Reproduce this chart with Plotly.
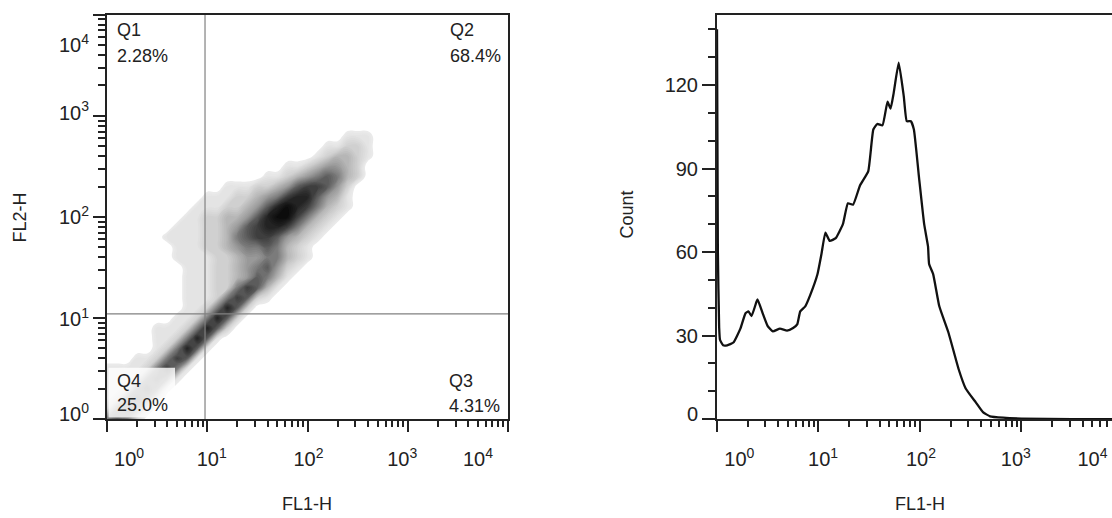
import math
import plotly.graph_objects as go

# ------------------------------------------------------------------
# DATA
# ------------------------------------------------------------------
# Left panel: FL1-H vs FL2-H density on a grid in
# log10 units (0.1 decade steps).  Digits are relative density levels
# (0 = empty, 9 = densest).  Rows run from top (log FL2 = 3.2) to bottom (0.0).
DENSITY_LOG_FL1 = [0.0, 0.1, 0.2, 0.3, 0.4, 0.5, 0.6, 0.7, 0.8, 0.9,
                   1.0, 1.1, 1.2, 1.3, 1.4, 1.5, 1.6, 1.7, 1.8, 1.9,
                   2.0, 2.1, 2.2, 2.3, 2.4, 2.5, 2.6, 2.7, 2.8, 2.9, 3.0]
DENSITY_LOG_FL2 = [3.2, 3.1, 3.0, 2.9, 2.8, 2.7, 2.6, 2.5, 2.4, 2.3,
                   2.2, 2.1, 2.0, 1.9, 1.8, 1.7, 1.6, 1.5, 1.4, 1.3,
                   1.2, 1.1, 1.0, 0.9, 0.8, 0.7, 0.6, 0.5, 0.4, 0.3,
                   0.2, 0.1, 0.0]
DENSITY_ROWS = [
    "0000000000000000000000000000000",
    "0000000000000000000000000000000",
    "0000000000000000000000000000000",
    "0000000000000000000000000000000",
    "0000000000000000000000001110000",
    "0000000000000000000000112210000",
    "0000000000000000000001233210000",
    "0000000000000000001123443200000",
    "0000000000000000112345653200000",
    "0000000000001112234677642000000",
    "0000000000111223457886431000000",
    "0000000001112234689875321000000",
    "0000000011223346899753210000000",
    "0000000111223467887532100000000",
    "0000001111223567764321000000000",
    "0000000111223455653210000000000",
    "0000000111122344553210000000000",
    "0000000011122345642100000000000",
    "0000000011122346531000000000000",
    "0000000011122576310000000000000",
    "0000000011125762100000000000000",
    "0000000011258620000000000000000",
    "0000000112586200000000000000000",
    "0000011125862000000000000000000",
    "0000011258610000000000000000000",
    "0000012586100000000000000000000",
    "0001125761000000000000000000000",
    "1111257510000000000000000000000",
    "1112565100000000000000000000000",
    "1125651000000000000000000000000",
    "1256520000000000000000000000000",
    "2565200000000000000000000000000",
    "5652000000000000000000000000000",
]

GATE_FL1 = 9.5      # vertical quadrant gate
GATE_FL2 = 11.0     # horizontal quadrant gate
QUADRANT_NAMES = ["Q1", "Q2", "Q3", "Q4"]
QUADRANT_PCTS = ["2.28%", "68.4%", "4.31%", "25.0%"]

# Right panel: FL1-H histogram
HIST_FL1 = [1.00, 1.02, 1.05, 1.07, 1.15, 1.26, 1.45, 1.70, 1.91, 2.04,
            2.19, 2.45, 2.51, 2.82, 3.16, 3.55, 4.17, 4.90, 5.62, 6.17,
            6.61, 7.41, 8.32, 9.77, 10.7, 11.7, 12.9, 14.8, 17.4, 19.5,
            21.9, 25.7, 30.9, 34.7, 38.0, 42.7, 47.9, 51.3, 55.0, 61.7,
            69.2, 74.1, 81.3, 87.1, 97.7, 110, 120, 123, 135, 155,
            191, 240, 282, 355, 417, 490, 661, 1000, 3162, 10000]
HIST_COUNT = [140, 60, 33, 28.5, 26.5, 26.5, 27.5, 32.5, 38, 38.7,
              37, 42.2, 43, 38, 33.4, 31.5, 32.5, 31.8, 32.7, 34,
              38.7, 40.5, 44.7, 52, 59.3, 67, 64, 65, 70, 77.5,
              77, 84, 89, 104, 106, 105.5, 114, 111.5, 117, 128,
              116, 107, 107, 104, 87, 70, 62, 55.7, 52, 40.5,
              31, 18, 11, 6, 2.5, 1, 0.5, 0.2, 0, 0]

DECADES = [1, 10, 100, 1000, 10000]
DECADE_TEXT = ["10<sup>0</sup>", "10<sup>1</sup>", "10<sup>2</sup>",
               "10<sup>3</sup>", "10<sup>4</sup>"]
COUNT_TICKS = [0, 30, 60, 90, 120]
COUNT_TEXT = ["0", "30", "60", "90", "120"]

# ------------------------------------------------------------------
# LAYOUT / STYLE CONSTANTS (pixels of the 1112x518 page)
# ------------------------------------------------------------------
W, H = 1112, 518
LEFT = dict(x0=107, x1=508, top=15, bottom=424)
RIGHT = dict(x0=717, x1=1112, top=15, bottom=424)
RIGHT_LOG_MAX = 3.892
COUNT_MAX = 145.2

# where the log tick labels sit (in decades) - they are pulled inward
X_LABEL_LOG = [0.22, 1.045, 2.01, 2.945, 3.70]
Y_LABEL_LOG = [0.05, 0.99, 2.0, 3.03, 3.70]
COUNT_LABEL_POS = [2.0, 30, 60, 90, 120]

FONT = "Liberation Sans, Arial, Helvetica, sans-serif"
INK = "#222222"
TICK_SIZE = 20
TEXT_SIZE = 18

# grey shade for each density level
LEVEL_GREYS = [(0.5, "#ebebeb"), (1, "#e4e4e4"), (2, "#d0d0d0"), (3, "#b6b6b6"),
               (4, "#999999"), (5, "#7b7b7b"), (6, "#5c5c5c"), (7, "#3e3e3e"),
               (8, "#232323"), (9, "#0c0c0c")]
C_START, C_END, C_SIZE = 0.5, 9.0, 0.2


def px_x(p):
    return p / W


def px_y(p):
    return 1 - p / H


minor_log = [m * d for d in [1, 10, 100, 1000] for m in range(2, 10)]
minor_count = [v for v in range(10, 150, 10) if v not in COUNT_TICKS]

z = [[int(c) for c in row] for row in DENSITY_ROWS]

# plotly maps a filled-contour colourscale onto [start - size/2, start + (n-0.5)*size]
n_levels = int(math.floor((C_END - C_START) / C_SIZE + 1e-9)) + 1
cs_lo = C_START - C_SIZE / 2
cs_span = n_levels * C_SIZE
colorscale = [[0.0, "#ffffff"]]
for lv, col in LEVEL_GREYS:
    colorscale.append([min((lv - cs_lo) / cs_span, 1.0), col])
if colorscale[-1][0] < 1.0:
    colorscale.append([1.0, LEVEL_GREYS[-1][1]])

fig = go.Figure()

# density on a linear overlay axis expressed in decades (log10 units)
fig.add_trace(go.Contour(
    x=DENSITY_LOG_FL1, y=DENSITY_LOG_FL2, z=z,
    autocontour=False,
    contours=dict(start=C_START, end=C_END, size=C_SIZE, coloring="fill",
                  showlines=False),
    line=dict(width=0, smoothing=1.3),
    colorscale=colorscale, showscale=False, hoverinfo="skip",
    xaxis="x5", yaxis="y5"))

# quadrant gates (same decade axes, drawn on top of the density)
gx, gy = math.log10(GATE_FL1), math.log10(GATE_FL2)
fig.add_trace(go.Scatter(x=[gx, gx], y=[0, 4], mode="lines",
                         line=dict(color="#808080", width=1.2),
                         hoverinfo="skip", showlegend=False, xaxis="x5", yaxis="y5"))
fig.add_trace(go.Scatter(x=[0, 4], y=[gy, gy], mode="lines",
                         line=dict(color="#808080", width=1.2),
                         hoverinfo="skip", showlegend=False, xaxis="x5", yaxis="y5"))

# histogram
fig.add_trace(go.Scatter(x=HIST_FL1, y=HIST_COUNT, mode="lines",
                         line=dict(color="#111111", width=2.3, shape="spline", smoothing=0.4),
                         hoverinfo="skip", showlegend=False, xaxis="x2", yaxis="y2"))

# empty traces so that the base / label-only overlay axes exist
for xa, ya in [("x", "y"), ("x3", "y"), ("x", "y3"), ("x4", "y2"), ("x2", "y4")]:
    fig.add_trace(go.Scatter(x=[], y=[], xaxis=xa, yaxis=ya, showlegend=False,
                             hoverinfo="skip"))

dom_lx = [px_x(LEFT["x0"]), px_x(LEFT["x1"])]
dom_rx = [px_x(RIGHT["x0"]), 1.0]
dom_y = [px_y(LEFT["bottom"]), px_y(LEFT["top"])]

axis_common = dict(showline=True, linecolor=INK, linewidth=2, showgrid=False,
                   zeroline=False, ticks="outside", tickcolor=INK, tickwidth=1.5,
                   showticklabels=False)

label_common = dict(showline=False, showgrid=False, zeroline=False, ticks="",
                    tickfont=dict(family=FONT, size=TICK_SIZE, color=INK))

hidden = dict(visible=False, showgrid=False, zeroline=False, range=[0, 4])

fig.update_layout(
    width=W, height=H, margin=dict(l=0, r=0, t=0, b=0),
    paper_bgcolor="white", plot_bgcolor="white", showlegend=False,
    font=dict(family=FONT, color=INK),
    xaxis=dict(domain=dom_lx, anchor="y", type="log", range=[0, 4], mirror=True,
               tickvals=DECADES, ticklen=11,
               minor=dict(tickvals=minor_log, ticks="outside", ticklen=6,
                          tickcolor=INK, tickwidth=1.5, showgrid=False),
               **axis_common),
    yaxis=dict(domain=dom_y, anchor="x", type="log", range=[0, 4], mirror=True,
               tickvals=DECADES, ticklen=12,
               minor=dict(tickvals=minor_log, ticks="outside", ticklen=7,
                          tickcolor=INK, tickwidth=1.5, showgrid=False),
               **axis_common),
    xaxis2=dict(domain=dom_rx, anchor="y2", type="log", range=[0, RIGHT_LOG_MAX],
                mirror=True, tickvals=DECADES, ticklen=11,
                minor=dict(tickvals=minor_log, ticks="outside", ticklen=6,
                           tickcolor=INK, tickwidth=1.5, showgrid=False),
                **axis_common),
    yaxis2=dict(domain=dom_y, anchor="x2", range=[0, COUNT_MAX], mirror=False,
                tickvals=COUNT_TICKS, ticklen=13,
                minor=dict(tickvals=minor_count, ticks="outside", ticklen=7,
                           tickcolor=INK, tickwidth=1.5, showgrid=False),
                **axis_common),
    xaxis3=dict(overlaying="x", anchor="y", side="bottom", type="log", range=[0, 4],
                tickvals=[10 ** p for p in X_LABEL_LOG], ticktext=DECADE_TEXT,
                ticklabelstandoff=26, **label_common),
    yaxis3=dict(overlaying="y", anchor="x", side="left", type="log", range=[0, 4],
                tickvals=[10 ** p for p in Y_LABEL_LOG], ticktext=DECADE_TEXT,
                ticklabelstandoff=17, **label_common),
    xaxis4=dict(overlaying="x2", anchor="y2", side="bottom", type="log",
                range=[0, RIGHT_LOG_MAX],
                tickvals=[10 ** p for p in X_LABEL_LOG], ticktext=DECADE_TEXT,
                ticklabelstandoff=26, **label_common),
    yaxis4=dict(overlaying="y2", anchor="x2", side="left", range=[0, COUNT_MAX],
                tickvals=COUNT_LABEL_POS, ticktext=COUNT_TEXT,
                ticklabelstandoff=18, **label_common),
    xaxis5=dict(overlaying="x", anchor="y5", **hidden),
    yaxis5=dict(overlaying="y", anchor="x5", **hidden),
)

# Q4 label backdrop
fig.add_shape(type="rect", xref="paper", yref="paper",
              x0=px_x(108.5), x1=px_x(175), y0=px_y(422.5), y1=px_y(372),
              fillcolor="rgba(255,255,255,0.82)", line=dict(width=0), layer="above")

quad_pos = [(115, 30, 56.5), (448, 30, 56.5), (447, 385, 411), (115, 385, 410)]
for name, pct, (qx, qy1, qy2) in zip(QUADRANT_NAMES, QUADRANT_PCTS, quad_pos):
    for txt, qy in [(name, qy1), (pct, qy2)]:
        fig.add_annotation(text=txt, xref="paper", yref="paper",
                           x=px_x(qx), y=px_y(qy), xanchor="left", yanchor="middle",
                           showarrow=False,
                           font=dict(family=FONT, size=TEXT_SIZE, color=INK))

titles = [("FL1-H", 307, 510, 0), ("FL1-H", 920, 510, 0),
          ("FL2-H", 20, 220, -90), ("Count", 627, 217, -90)]
for txt, tx, ty, ang in titles:
    fig.add_annotation(text=txt, xref="paper", yref="paper", x=px_x(tx), y=px_y(ty),
                       xanchor="center", yanchor="middle", showarrow=False,
                       textangle=ang, font=dict(family=FONT, size=TEXT_SIZE, color=INK))

fig.write_html("out.html")
